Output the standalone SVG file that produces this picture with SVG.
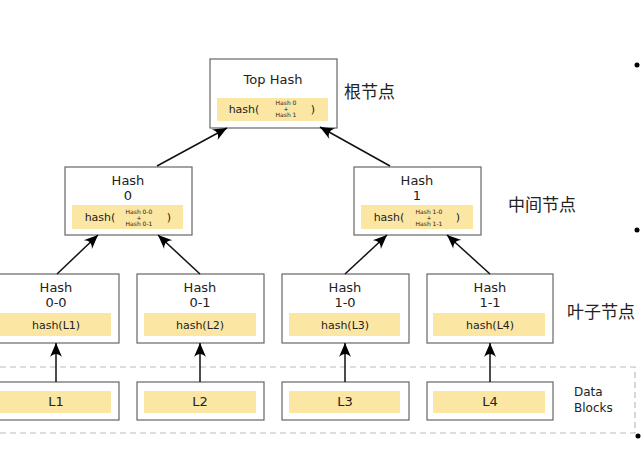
<svg xmlns="http://www.w3.org/2000/svg" width="643" height="462" viewBox="0 0 643 462">
<style>
.box{fill:#fff;stroke:#666;stroke-width:1.2}
.hl{fill:#fbe6a3}
.t{font-family:"DejaVu Sans",Verdana,sans-serif;fill:#222;text-anchor:middle}
.big{font-size:13px}
.mid{font-size:11px}
.sm{font-size:6px}
.cjk{font-family:"Noto Sans CJK SC",sans-serif;font-size:17px;fill:#222}
.edge{stroke:#111;stroke-width:1.5;fill:none;marker-end:url(#ah)}
.dash{fill:none;stroke:#bbb;stroke-width:1.2;stroke-dasharray:6 4}
</style>
<defs>
<marker id="ah" markerUnits="userSpaceOnUse" markerWidth="18" markerHeight="14" viewBox="-15 -7 16 14" refX="0" refY="0" orient="auto">
<path d="M0,0 L-14,-6 C-10,-2 -10,2 -14,6 Z" fill="#000"/>
</marker>
</defs>
<rect width="643" height="462" fill="#fff"/>
<rect class="dash" x="-10" y="367" width="645" height="66"/>
<g id="top">
<rect class="box" x="210" y="59" width="127" height="69"/>
<rect class="hl" x="217" y="98" width="111" height="23"/>
<text class="t big" x="273" y="84">Top Hash</text>
<text class="t mid" x="244" y="113">hash(</text>
<text class="t sm" x="286" y="105">Hash 0</text>
<text class="t sm" x="286" y="110.5">+</text>
<text class="t sm" x="286" y="117">Hash 1</text>
<text class="t mid" x="313" y="113">)</text>
</g>
<g id="h0">
<rect class="box" x="65" y="167" width="127" height="68"/>
<rect class="hl" x="72" y="205" width="111" height="24"/>
<text class="t big" x="128" y="185">Hash</text>
<text class="t big" x="128" y="200">0</text>
<text class="t mid" x="100" y="221">hash(</text>
<text class="t sm" x="139" y="214">Hash 0-0</text>
<text class="t sm" x="139" y="219.5">+</text>
<text class="t sm" x="139" y="226">Hash 0-1</text>
<text class="t mid" x="169" y="221">)</text>
</g>
<g id="h1">
<rect class="box" x="354" y="167" width="127" height="68"/>
<rect class="hl" x="361" y="205" width="112" height="24"/>
<text class="t big" x="417" y="185">Hash</text>
<text class="t big" x="417" y="200">1</text>
<text class="t mid" x="389" y="221">hash(</text>
<text class="t sm" x="429" y="214">Hash 1-0</text>
<text class="t sm" x="429" y="219.5">+</text>
<text class="t sm" x="429" y="226">Hash 1-1</text>
<text class="t mid" x="458" y="221">)</text>
</g>
<g id="h00">
<rect class="box" x="-8" y="274" width="127" height="69"/>
<rect class="hl" x="-1" y="313" width="112" height="23"/>
<text class="t big" x="56" y="292">Hash</text>
<text class="t big" x="56" y="307">0-0</text>
<text class="t mid" x="56" y="329">hash(L1)</text>
</g>
<g id="h01">
<rect class="box" x="137" y="274" width="127" height="69"/>
<rect class="hl" x="144" y="313" width="112" height="23"/>
<text class="t big" x="200" y="292">Hash</text>
<text class="t big" x="200" y="307">0-1</text>
<text class="t mid" x="200" y="329">hash(L2)</text>
</g>
<g id="h10">
<rect class="box" x="282" y="274" width="127" height="69"/>
<rect class="hl" x="289" y="313" width="111" height="23"/>
<text class="t big" x="345" y="292">Hash</text>
<text class="t big" x="345" y="307">1-0</text>
<text class="t mid" x="345" y="329">hash(L3)</text>
</g>
<g id="h11">
<rect class="box" x="427" y="274" width="126" height="69"/>
<rect class="hl" x="433" y="313" width="112" height="23"/>
<text class="t big" x="490" y="292">Hash</text>
<text class="t big" x="490" y="307">1-1</text>
<text class="t mid" x="490" y="329">hash(L4)</text>
</g>
<g id="l1">
<rect class="box" x="-8" y="382" width="127" height="38"/>
<rect class="hl" x="-1" y="391" width="112" height="22"/>
<text class="t big" x="56" y="406">L1</text>
</g>
<g id="l2">
<rect class="box" x="137" y="382" width="127" height="38"/>
<rect class="hl" x="144" y="391" width="112" height="22"/>
<text class="t big" x="200" y="406">L2</text>
</g>
<g id="l3">
<rect class="box" x="282" y="382" width="127" height="38"/>
<rect class="hl" x="289" y="391" width="111" height="22"/>
<text class="t big" x="345" y="406">L3</text>
</g>
<g id="l4">
<rect class="box" x="427" y="382" width="126" height="38"/>
<rect class="hl" x="433" y="391" width="112" height="22"/>
<text class="t big" x="490" y="406">L4</text>
</g>
<g id="connectors">
<line class="edge" x1="157" y1="166" x2="227" y2="128"/>
<line class="edge" x1="390" y1="166" x2="320" y2="127"/>
<line class="edge" x1="57" y1="274" x2="98" y2="235"/>
<line class="edge" x1="200" y1="274" x2="158" y2="235"/>
<line class="edge" x1="345" y1="274" x2="387" y2="235"/>
<line class="edge" x1="490" y1="274" x2="447" y2="235"/>
<line class="edge" x1="56" y1="382" x2="56" y2="343"/>
<line class="edge" x1="200" y1="382" x2="200" y2="343"/>
<line class="edge" x1="345" y1="382" x2="345" y2="343"/>
<line class="edge" x1="490" y1="382" x2="490" y2="343"/>
</g>
<g id="labels">
<text class="cjk" x="344" y="98">根节点</text>
<text class="cjk" x="508" y="211">中间节点</text>
<text class="cjk" x="567" y="318">叶子节点</text>
<text class="t" style="font-size:12px;text-anchor:start" x="574" y="396">Data</text>
<text class="t" style="font-size:12px;text-anchor:start" x="574" y="412">Blocks</text>
</g>
<g id="dots" fill="#000">
<circle cx="637" cy="65" r="2.5"/>
<circle cx="637" cy="230" r="2.5"/>
<circle cx="638" cy="436" r="2.5"/>
</g>
</svg>
